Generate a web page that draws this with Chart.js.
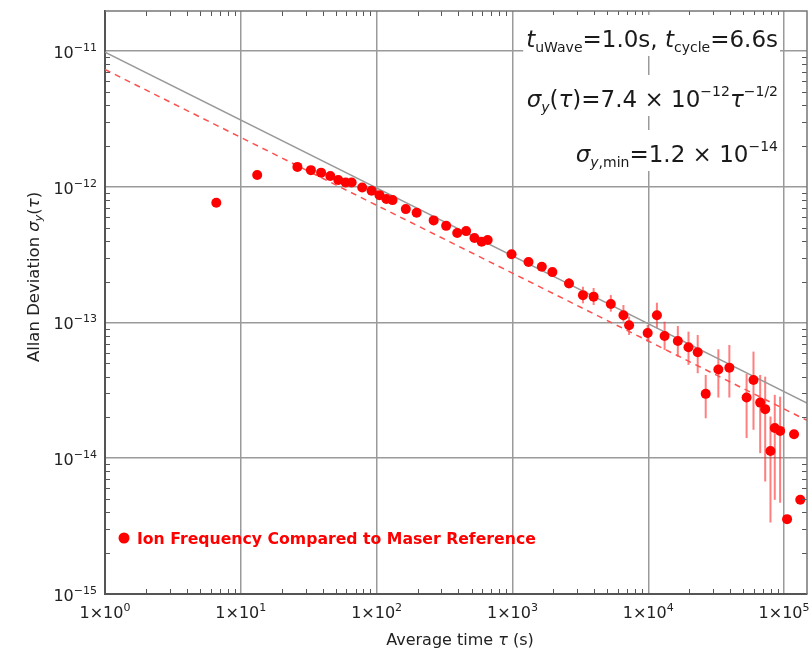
<!DOCTYPE html>
<html>
<head>
<meta charset="utf-8">
<script src="https://cdn.jsdelivr.net/npm/chart.js@4.4.1/dist/chart.umd.min.js"></script>
<style>
  body { margin: 0; background: #fff; }
  canvas { display: block; }
</style>
</head>
<body>
<canvas id="myChart" width="812" height="649"></canvas>
<script>
// averaging times (s)
const tau = [6.6, 13.2, 26.1, 32.8, 39.0, 45.6, 52.2, 59.2, 65.5, 78.3, 91.8, 105, 118, 131, 164, 197,
  263, 325, 392, 456, 525, 593, 657, 985, 1313, 1645, 1968, 2609, 3304, 3960, 5300, 6565, 7226, 9900,
  11580, 13190, 16510, 19780, 23130, 26490, 32820, 39540, 52960, 59540, 66690, 72600, 79400, 85400,
  93500, 105200, 118400, 131600];

// allan deviation
const sigma = [7.62e-13, 1.22e-12, 1.40e-12, 1.325e-12, 1.27e-12, 1.20e-12, 1.12e-12, 1.076e-12,
  1.076e-12, 9.88e-13, 9.33e-13, 8.67e-13, 8.11e-13, 7.97e-13, 6.84e-13, 6.43e-13, 5.65e-13, 5.15e-13,
  4.56e-13, 4.71e-13, 4.19e-13, 3.93e-13, 4.05e-13, 3.18e-13, 2.79e-13, 2.57e-13, 2.35e-13, 1.94e-13,
  1.59e-13, 1.55e-13, 1.37e-13, 1.13e-13, 9.53e-14, 8.37e-14, 1.13e-13, 7.96e-14, 7.31e-14, 6.57e-14,
  6.04e-14, 2.98e-14, 4.50e-14, 4.65e-14, 2.80e-14, 3.77e-14, 2.57e-14, 2.30e-14, 1.13e-14, 1.67e-14,
  1.59e-14, 3.56e-15, 1.50e-14, 4.94e-15];

// error bar ends (null = no bar)
const errLo = [null, null, null, null, null, null, null, null, null, null, null, null, null, null, null, null,
  null, null, null, null, null, null, null, null, 2.63e-13, 2.42e-13, 2.20e-13, 1.795e-13, 1.384e-13,
  1.345e-13, 1.201e-13, 1.014e-13, 8.09e-14, 7.22e-14, 9.06e-14, 6.27e-14, 5.60e-14, 4.87e-14, 4.23e-14,
  1.97e-14, 2.80e-14, 2.80e-14, 1.41e-14, 1.62e-14, 1.09e-14, 6.74e-15, 3.36e-15, 4.94e-15, 4.70e-15,
  null, null, null];
const errHi = [null, null, null, null, null, null, null, null, null, null, null, null, null, null, null, null,
  null, null, null, null, null, null, null, null, 2.96e-13, 2.73e-13, 2.52e-13, 2.125e-13, 1.834e-13,
  1.795e-13, 1.593e-13, 1.345e-13, 1.103e-13, 9.58e-14, 1.398e-13, 1.014e-13, 9.42e-14, 8.56e-14, 8.09e-14,
  4.11e-14, 6.35e-14, 6.83e-14, 4.18e-14, 6.10e-14, 4.11e-14, 3.99e-14, 2.03e-14, 2.93e-14, 2.84e-14,
  null, null, null];

// fit lines (ends only)
const fitTau = [1, 147500];
const grayFit = [9.8e-12, 2.55e-14];
const redFit = [7.3e-12, 1.9e-14];

// axis ticks: mantissa/exponent for the labels
const xTicks = [1, 10, 100, 1000, 10000, 100000];
const xTickExp = ['0', '1', '2', '3', '4', '5'];
const yTicks = [1e-15, 1e-14, 1e-13, 1e-12, 1e-11];
const yTickExp = ['−15', '−14', '−13', '−12', '−11'];

const FONT = 'DejaVu Sans';

// draw text made of pieces (sub/superscripts), right aligned or centred
function richText(ctx, parts, x, y, align) {
  let w = 0;
  parts.forEach(p => { ctx.font = p.f; w += ctx.measureText(p.t).width; });
  let cx = align === 'center' ? x - w / 2 : x - w;
  parts.forEach(p => {
    ctx.font = p.f;
    ctx.fillText(p.t, cx, y + (p.dy || 0));
    cx += ctx.measureText(p.t).width;
  });
  return w;
}

const extras = {
  id: 'extras',
  beforeDatasetsDraw(chart) {
    const { ctx, chartArea: a, scales: { x, y } } = chart;
    ctx.save();
    ctx.beginPath();
    ctx.rect(a.left, a.top, a.right - a.left, a.bottom - a.top);
    ctx.clip();
    // error bars
    ctx.strokeStyle = 'rgba(255,40,40,0.6)';
    ctx.lineWidth = 2;
    tau.forEach((t, i) => {
      if (errLo[i] == null) return;
      const px = x.getPixelForValue(t);
      ctx.beginPath();
      ctx.moveTo(px, y.getPixelForValue(errLo[i]));
      ctx.lineTo(px, y.getPixelForValue(errHi[i]));
      ctx.stroke();
    });
    ctx.restore();
  },
  afterDraw(chart) {
    const { ctx, chartArea: a, scales: { x, y } } = chart;
    ctx.save();
    // minor ticks inside the frame
    ctx.strokeStyle = '#555';
    ctx.lineWidth = 1;
    for (let d = 0; d <= 5; d++) {
      for (let k = 2; k <= 9; k++) {
        const v = k * Math.pow(10, d);
        if (v > x.max) continue;
        const px = Math.round(x.getPixelForValue(v)) + 0.5;
        ctx.beginPath();
        ctx.moveTo(px, a.bottom); ctx.lineTo(px, a.bottom - 5);
        ctx.moveTo(px, a.top); ctx.lineTo(px, a.top + 5);
        ctx.stroke();
      }
    }
    for (let d = -15; d <= -11; d++) {
      for (let k = 2; k <= 9; k++) {
        const v = k * Math.pow(10, d);
        if (v > y.max) continue;
        const py = Math.round(y.getPixelForValue(v)) + 0.5;
        ctx.beginPath();
        ctx.moveTo(a.left, py); ctx.lineTo(a.left + 5, py);
        ctx.moveTo(a.right, py); ctx.lineTo(a.right - 5, py);
        ctx.stroke();
      }
    }
    // top and right frame
    ctx.strokeStyle = '#777';
    ctx.lineWidth = 1.5;
    ctx.beginPath();
    ctx.moveTo(a.left, a.top); ctx.lineTo(a.right, a.top); ctx.lineTo(a.right, a.bottom);
    ctx.stroke();

    // tick labels with real superscripts
    ctx.fillStyle = '#222';
    ctx.textBaseline = 'alphabetic';
    const tk = '16px ' + FONT, tkS = '11px ' + FONT;
    xTicks.forEach((v, i) => {
      richText(ctx, [{ t: '1×10', f: tk }, { t: xTickExp[i], f: tkS, dy: -7 }],
        x.getPixelForValue(v), 618, 'center');
    });
    yTicks.forEach((v, i) => {
      richText(ctx, [{ t: '10', f: tk }, { t: yTickExp[i], f: tkS, dy: -7 }],
        97, y.getPixelForValue(v) + 7, 'right');
    });

    // text boxes top right
    const big = '23px ' + FONT, bigI = 'italic 23px ' + FONT;
    const sm = '14px ' + FONT, smI = 'italic 14px ' + FONT;
    const lines = [
      { y: 47, parts: [
        { t: 't', f: bigI }, { t: 'uWave', f: sm, dy: 5 }, { t: '=1.0s, ', f: big },
        { t: 't', f: bigI }, { t: 'cycle', f: sm, dy: 5 }, { t: '=6.6s', f: big }] },
      { y: 107, parts: [
        { t: 'σ', f: bigI }, { t: 'y', f: smI, dy: 5 }, { t: '(', f: big }, { t: 'τ', f: bigI },
        { t: ')=7.4 × 10', f: big }, { t: '−12', f: sm, dy: -11 }, { t: 'τ', f: bigI },
        { t: '−1/2', f: sm, dy: -11 }] },
      { y: 162, parts: [
        { t: 'σ', f: bigI }, { t: 'y', f: smI, dy: 5 }, { t: ',min', f: sm, dy: 5 },
        { t: '=1.2 × 10', f: big }, { t: '−14', f: sm, dy: -11 }] }
    ];
    lines.forEach(l => {
      let w = 0;
      l.parts.forEach(p => { ctx.font = p.f; w += ctx.measureText(p.t).width; });
      ctx.fillStyle = '#fff';
      ctx.fillRect(778 - w - 3, l.y - 32, w + 5, 41);
      ctx.fillStyle = '#1a1a1a';
      richText(ctx, l.parts, 778, l.y, 'right');
    });

    // legend inside plot
    ctx.fillStyle = '#ff0000';
    ctx.beginPath();
    ctx.arc(124, 538, 5.5, 0, Math.PI * 2);
    ctx.fill();
    ctx.font = 'bold 15.7px ' + FONT;
    ctx.textAlign = 'left';
    ctx.fillText('Ion Frequency Compared to Maser Reference', 137, 544);

    // axis titles
    ctx.fillStyle = '#222';
    richText(ctx, [{ t: 'Average time ', f: '16px ' + FONT }, { t: 'τ', f: 'italic 16px ' + FONT },
      { t: ' (s)', f: '16px ' + FONT }], 460, 645, 'center');
    ctx.translate(39, 277);
    ctx.rotate(-Math.PI / 2);
    richText(ctx, [{ t: 'Allan Deviation ', f: '16.5px ' + FONT }, { t: 'σ', f: 'italic 16.5px ' + FONT },
      { t: 'y', f: 'italic 11px ' + FONT, dy: 3 }, { t: '(', f: '16.5px ' + FONT },
      { t: 'τ', f: 'italic 16.5px ' + FONT }, { t: ')', f: '16.5px ' + FONT }], 0, 0, 'center');
    ctx.restore();
  }
};

const ctx = document.getElementById('myChart');

new Chart(ctx, {
  type: 'scatter',
  data: {
    datasets: [{
      label: 'Ion Frequency Compared to Maser Reference',
      data: tau.map((t, i) => ({ x: t, y: sigma[i] })),
      backgroundColor: '#ff0000',
      borderWidth: 0,
      pointRadius: 5
    }, {
      label: 'fit gray',
      data: fitTau.map((t, i) => ({ x: t, y: grayFit[i] })),
      showLine: true,
      borderColor: '#999',
      borderWidth: 1.5,
      pointRadius: 0
    }, {
      label: 'fit red',
      data: fitTau.map((t, i) => ({ x: t, y: redFit[i] })),
      showLine: true,
      borderColor: '#ff5050',
      borderWidth: 1.5,
      borderDash: [6, 5],
      pointRadius: 0
    }]
  },
  options: {
    responsive: false,
    animation: false,
    layout: { padding: { top: 11, right: 3, left: 0, bottom: 0 } },
    plugins: { legend: { display: false }, tooltip: { enabled: false } },
    scales: {
      x: {
        type: 'logarithmic',
        min: 1,
        max: 147500,
        afterBuildTicks: s => { s.ticks = xTicks.map(v => ({ value: v })); },
        afterFit: s => { s.height = 55; s.paddingLeft = 0; s.paddingRight = 0; },
        ticks: { display: false },
        grid: { color: '#9a9a9a', lineWidth: 1.5, drawTicks: false },
        border: { color: '#555', width: 2 }
      },
      y: {
        type: 'logarithmic',
        min: 1e-15,
        max: 1.97e-11,
        afterBuildTicks: s => { s.ticks = yTicks.map(v => ({ value: v })); },
        afterFit: s => { s.width = 105; s.paddingTop = 0; s.paddingBottom = 0; },
        ticks: { display: false },
        grid: { color: '#9a9a9a', lineWidth: 1.5, drawTicks: false },
        border: { color: '#555', width: 2 }
      }
    }
  },
  plugins: [extras]
});
</script>
</body>
</html>
